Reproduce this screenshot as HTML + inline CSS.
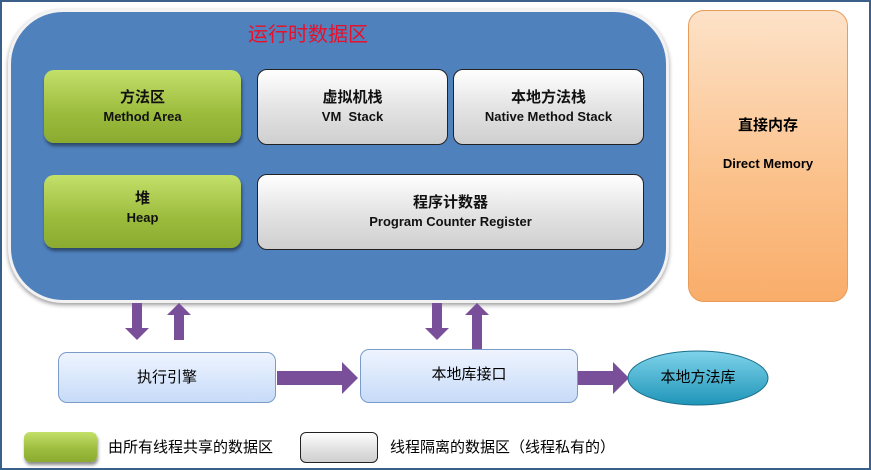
<!DOCTYPE html>
<html><head><meta charset="utf-8"><style>
body{margin:0;width:871px;height:470px;overflow:hidden;background:#fff;font-family:"Liberation Sans","Noto Sans CJK SC",sans-serif;}
.frame{position:absolute;left:0;top:0;width:867px;height:466px;border:2px solid #3a5f8a;}
.a{position:absolute;box-sizing:border-box;text-align:center;}
.big{left:8px;top:9px;width:661px;height:294px;background:#4f81bd;border:3px solid #f2f2f2;border-radius:55px;box-shadow:0 2px 4px rgba(0,0,0,.4);}
.g{background:linear-gradient(#c3e06a,#9bbb3c 60%,#8aab30);border-radius:10px;box-shadow:1px 3px 3px rgba(0,0,0,.45);color:#111;}
.w{background:linear-gradient(#ffffff,#e4e4e4 50%,#cfcfcf);border:1.5px solid #222;border-radius:10px;color:#111;}
.cn{font-size:15px;font-weight:bold;line-height:20px;}
.en{font-size:13px;font-weight:bold;line-height:18px;}
.o{left:688px;top:10px;width:160px;height:292px;background:linear-gradient(#fde2c8,#fbc089 60%,#f9ad6a);border:1px solid #e89c5a;border-radius:16px;}
.b{background:linear-gradient(#eef4ff,#c7dbf8);border:1px solid #7b9cc8;border-radius:9px;font-size:15px;line-height:50px;}
</style></head><body>
<div class="frame"></div>
<div class="a big"></div>
<div class="a" style="left:168px;top:18px;width:280px;color:#e8102a;font-size:20px;">运行时数据区</div>
<div class="a g" style="left:44px;top:70px;width:197px;height:73px;padding-top:18px"><div class="cn">方法区</div><div class="en">Method Area</div></div>
<div class="a w" style="left:257px;top:69px;width:191px;height:76px;padding-top:18px"><div class="cn">虚拟机栈</div><div class="en">VM&nbsp; Stack</div></div>
<div class="a w" style="left:453px;top:69px;width:191px;height:76px;padding-top:18px"><div class="cn">本地方法栈</div><div class="en">Native Method Stack</div></div>
<div class="a g" style="left:44px;top:175px;width:197px;height:73px;padding-top:14px"><div class="cn">堆</div><div class="en">Heap</div></div>
<div class="a w" style="left:257px;top:174px;width:387px;height:76px;padding-top:18px"><div class="cn">程序计数器</div><div class="en">Program Counter Register</div></div>
<div class="a o"><div class="cn" style="margin-top:105px">直接内存</div><div class="en" style="margin-top:19px">Direct Memory</div></div>
<svg class="a" style="left:0;top:0" width="871" height="470">
<g fill="#7a4f9a">
<path d="M132 303h10v25h7l-12 12-12-12h7z"/>
<path d="M174 340h10v-25h7l-12-12-12 12h7z"/>
<path d="M432 303h10v25h7l-12 12-12-12h7z"/>
<path d="M472 350h10v-35h7l-12-12-12 12h7z"/>
<path d="M277 371h65v-9l16 16-16 16v-9h-65z"/>
<path d="M578 371h35v-9l16 16-16 16v-9h-35z"/>
</g>
<defs><linearGradient id="e" x1="0" y1="0" x2="0" y2="1"><stop offset="0" stop-color="#7fd3ea"/><stop offset="1" stop-color="#1f95b8"/></linearGradient></defs>
<ellipse cx="698" cy="378" rx="70" ry="27" fill="url(#e)" stroke="#1a6e8a"/>
</svg>
<div class="a b" style="left:58px;top:352px;width:218px;height:51px;">执行引擎</div>
<div class="a b" style="left:360px;top:349px;width:218px;height:54px;line-height:50px">本地库接口</div>
<div class="a" style="left:628px;top:366px;width:140px;font-size:15px;">本地方法库</div>
<div class="a g" style="left:24px;top:432px;width:73px;height:30px;border-radius:6px"></div>
<div class="a" style="left:108px;top:436px;font-size:15px;text-align:left">由所有线程共享的数据区</div>
<div class="a w" style="left:300px;top:432px;width:78px;height:31px;border-radius:6px"></div>
<div class="a" style="left:390px;top:436px;font-size:15px;text-align:left">线程隔离的数据区（线程私有的）</div>
</body></html>
